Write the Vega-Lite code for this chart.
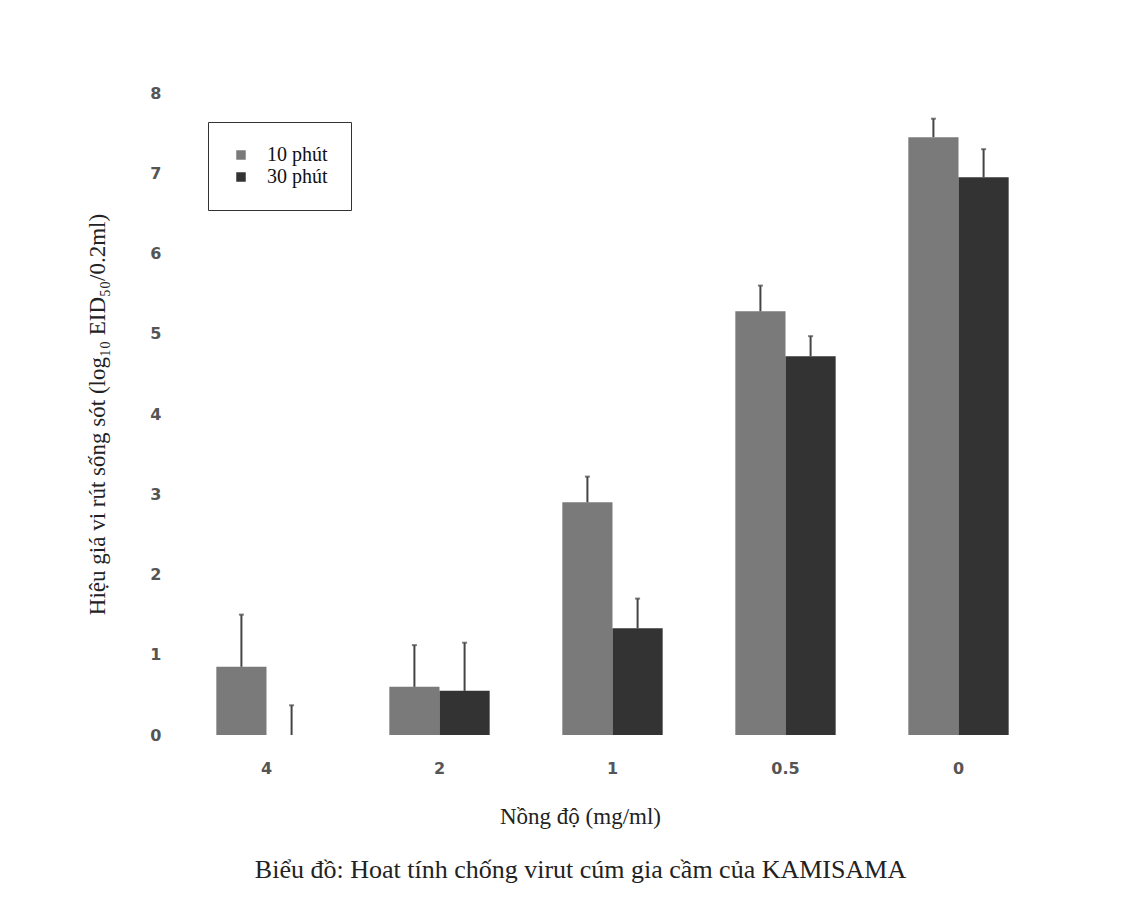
{
  "$schema": "https://vega.github.io/schema/vega-lite/v6.json",
  "autosize": "none",
  "width": 865,
  "height": 642,
  "padding": {"left": 180, "top": 93, "right": 81, "bottom": 181},
  "background": "white",
  "title": {
    "text": "Biểu đồ: Hoat tính chống virut cúm gia cầm của KAMISAMA",
    "orient": "bottom",
    "anchor": "middle",
    "dx": -32,
    "offset": 29,
    "font": "Liberation Serif",
    "fontSize": 26,
    "fontWeight": "normal",
    "color": "#222"
  },
  "data": {
    "values": [
      {"conc": "4", "time": "10 phút", "value": 0.85, "err": 1.5},
      {"conc": "4", "time": "30 phút", "value": 0.0, "err": 0.37},
      {"conc": "2", "time": "10 phút", "value": 0.6, "err": 1.12},
      {"conc": "2", "time": "30 phút", "value": 0.55, "err": 1.15},
      {"conc": "1", "time": "10 phút", "value": 2.9, "err": 3.22},
      {"conc": "1", "time": "30 phút", "value": 1.33, "err": 1.7},
      {"conc": "0.5", "time": "10 phút", "value": 5.28, "err": 5.6},
      {"conc": "0.5", "time": "30 phút", "value": 4.72, "err": 4.97},
      {"conc": "0", "time": "10 phút", "value": 7.45, "err": 7.68},
      {"conc": "0", "time": "30 phút", "value": 6.95, "err": 7.3}
    ]
  },
  "encoding": {
    "x": {
      "field": "conc",
      "type": "nominal",
      "sort": ["4", "2", "1", "0.5", "0"],
      "scale": {"paddingInner": 0.42, "paddingOuter": 0.21},
      "axis": {
        "title": "Nồng độ (mg/ml)",
        "titleFont": "Liberation Serif",
        "titleFontSize": 23,
        "titleFontWeight": "normal",
        "titleColor": "#222",
        "titlePadding": 29,
        "titleX": 400,
        "labelAngle": 0,
        "labelFont": "DejaVu Sans",
        "labelFontSize": 16,
        "labelFontWeight": "bold",
        "labelColor": "#555",
        "labelPadding": 25,
        "domain": false,
        "ticks": false,
        "grid": false
      }
    },
    "xOffset": {"field": "time", "type": "nominal", "sort": ["10 phút", "30 phút"], "scale": {"paddingInner": 0, "paddingOuter": 0}}
  },
  "layer": [
    {
      "mark": {"type": "bar"},
      "encoding": {
        "y": {
          "field": "value",
          "type": "quantitative",
          "scale": {"domain": [0, 8], "nice": false},
          "axis": {
            "title": "Hiệu giá vi rút sống sót (log₁₀ EID₅₀/0.2ml)",
            "titleFont": "Liberation Serif",
            "titleFontSize": 23,
            "titleFontWeight": "normal",
            "titleColor": "#222",
            "titlePadding": 40,
            "values": [0, 1, 2, 3, 4, 5, 6, 7, 8],
            "format": "d",
            "labelFont": "DejaVu Sans",
            "labelFontSize": 16,
            "labelFontWeight": "bold",
            "labelColor": "#555",
            "labelPadding": 19,
            "domain": false,
            "ticks": false,
            "grid": false
          }
        },
        "color": {
          "field": "time",
          "type": "nominal",
          "scale": {"domain": ["10 phút", "30 phút"], "range": ["#7a7a7a", "#333333"]},
          "legend": {
            "title": null,
            "orient": "none",
            "legendX": 28,
            "legendY": 29,
            "direction": "vertical",
            "strokeColor": "#333",
            "padding": 23,
            "symbolType": "square",
            "symbolSize": 90,
            "symbolStrokeWidth": 0,
            "labelFont": "Liberation Serif",
            "labelFontSize": 20,
            "labelColor": "#111",
            "labelOffset": 16,
            "rowPadding": 2
          }
        }
      }
    },
    {
      "mark": {"type": "rule", "color": "#444", "strokeWidth": 2},
      "encoding": {
        "y": {"field": "value", "type": "quantitative"},
        "y2": {"field": "err"}
      }
    },
    {
      "mark": {"type": "tick", "color": "#444", "thickness": 2, "orient": "horizontal", "size": 5},
      "encoding": {
        "y": {"field": "err", "type": "quantitative"}
      }
    }
  ],
  "config": {"view": {"stroke": null}}
}
